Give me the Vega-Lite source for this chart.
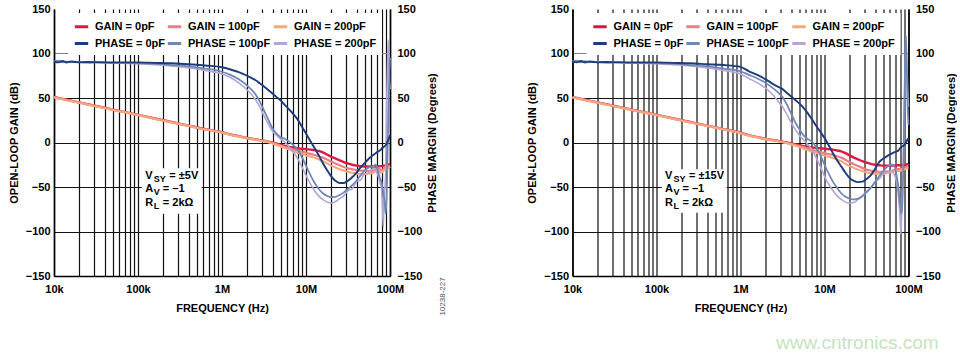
{
  "$schema": "https://vega.github.io/schema/vega-lite/v6.json",
  "padding": {"left": 8, "top": 3, "right": 0, "bottom": 0},
  "background": "white",
  "datasets": {
    "curves": [
      {"p":"A","f":10000,"g0":51,"g1":51,"g2":50.5,"q0":91,"q1":91.5,"q2":92},
      {"p":"A","f":11220,"g0":50,"g1":50,"g2":49.5,"q0":90,"q1":92,"q2":90},
      {"p":"A","f":12589,"g0":49,"g1":49,"g2":48.5,"q0":91.5,"q1":90,"q2":91},
      {"p":"A","f":14125,"g0":48,"g1":48,"g2":47.5,"q0":90,"q1":91,"q2":89.5},
      {"p":"A","f":15849,"g0":47,"g1":47,"g2":46.5,"q0":91,"q1":90,"q2":91},
      {"p":"A","f":17783,"g0":46,"g1":46,"g2":45.5,"q0":90.5,"q1":91,"q2":90},
      {"p":"A","f":19953,"g0":45,"g1":45,"g2":44.5,"q0":90,"q1":90.5,"q2":90.5},
      {"p":"A","f":25119,"g0":43,"g1":43,"g2":42.5,"q0":90.5,"q1":90,"q2":89.5},
      {"p":"A","f":31623,"g0":41,"g1":41,"g2":40.5,"q0":90,"q1":90.5,"q2":90},
      {"p":"A","f":39811,"g0":39,"g1":39,"g2":38.5,"q0":90,"q1":90,"q2":89.5},
      {"p":"A","f":50119,"g0":37,"g1":37,"g2":36.5,"q0":90,"q1":89.5,"q2":89.5},
      {"p":"A","f":63096,"g0":35,"g1":35,"g2":34.5,"q0":90,"q1":89.5,"q2":89},
      {"p":"A","f":100000,"g0":31,"g1":31,"g2":30.5,"q0":90,"q1":89,"q2":88.5},
      {"p":"A","f":158489,"g0":27,"g1":27,"g2":26.5,"q0":89.5,"q1":88.5,"q2":87.5},
      {"p":"A","f":251189,"g0":23,"g1":23,"g2":22.5,"q0":89,"q1":87,"q2":86},
      {"p":"A","f":398107,"g0":19,"g1":19,"g2":18.5,"q0":88,"q1":85.5,"q2":84},
      {"p":"A","f":630957,"g0":15,"g1":15,"g2":14.5,"q0":86.5,"q1":83,"q2":81},
      {"p":"A","f":1000000,"g0":11.5,"g1":11.5,"g2":11,"q0":84.5,"q1":79.5,"q2":77},
      {"p":"A","f":1258925,"g0":9,"g1":9,"g2":8.5,"q0":82,"q1":76,"q2":73},
      {"p":"A","f":1584893,"g0":7,"g1":7,"g2":6.5,"q0":79,"q1":71,"q2":67},
      {"p":"A","f":1995262,"g0":5,"g1":5,"g2":4.5,"q0":75,"q1":64,"q2":59},
      {"p":"A","f":2511886,"g0":3.5,"g1":3.5,"g2":3,"q0":70,"q1":54,"q2":48},
      {"p":"A","f":2818383,"g0":2.5,"g1":2.5,"g2":2,"q0":66.5,"q1":46,"q2":40},
      {"p":"A","f":3162278,"g0":2,"g1":1.8,"g2":1.3,"q0":63,"q1":36,"q2":30},
      {"p":"A","f":3548134,"g0":1,"g1":0.7,"g2":0.2,"q0":59,"q1":26,"q2":21},
      {"p":"A","f":3981072,"g0":0,"g1":-0.5,"g2":-1,"q0":55,"q1":16,"q2":13},
      {"p":"A","f":4466836,"g0":-1.2,"g1":-2,"g2":-2.7,"q0":51,"q1":10,"q2":8},
      {"p":"A","f":5011872,"g0":-2.5,"g1":-3.5,"g2":-4.5,"q0":47,"q1":6,"q2":4},
      {"p":"A","f":5623413,"g0":-3.8,"g1":-5,"g2":-6.3,"q0":42,"q1":4,"q2":0},
      {"p":"A","f":6309573,"g0":-5,"g1":-6.5,"g2":-8,"q0":37,"q1":1,"q2":-5},
      {"p":"A","f":7079458,"g0":-5.8,"g1":-7.8,"g2":-9.8,"q0":32,"q1":-3,"q2":-11},
      {"p":"A","f":7943282,"g0":-6.5,"g1":-9,"g2":-11.5,"q0":26,"q1":-8,"q2":-18},
      {"p":"A","f":8912509,"g0":-7,"g1":-10.3,"g2":-13,"q0":18,"q1":-16,"q2":-27},
      {"p":"A","f":10000000,"g0":-7.5,"g1":-11.5,"g2":-14.5,"q0":10,"q1":-26,"q2":-37},
      {"p":"A","f":11220185,"g0":-8,"g1":-12.8,"g2":-15.8,"q0":2,"q1":-36,"q2":-46},
      {"p":"A","f":12589254,"g0":-8.5,"g1":-14,"g2":-17,"q0":-6,"q1":-45,"q2":-54},
      {"p":"A","f":14125375,"g0":-9.5,"g1":-15.5,"g2":-19,"q0":-14,"q1":-52,"q2":-60},
      {"p":"A","f":15848932,"g0":-11,"g1":-17,"g2":-21,"q0":-23,"q1":-57,"q2":-64},
      {"p":"A","f":17782794,"g0":-13.5,"g1":-19.2,"g2":-23.5,"q0":-31,"q1":-60,"q2":-67},
      {"p":"A","f":19952623,"g0":-16,"g1":-21.5,"g2":-26,"q0":-38,"q1":-61.5,"q2":-68},
      {"p":"A","f":22387211,"g0":-18,"g1":-23.5,"g2":-28,"q0":-43,"q1":-61,"q2":-66.5},
      {"p":"A","f":25118864,"g0":-20,"g1":-25.5,"g2":-30,"q0":-45.5,"q1":-59,"q2":-63},
      {"p":"A","f":28183829,"g0":-22,"g1":-27.5,"g2":-31.5,"q0":-45.5,"q1":-56,"q2":-60},
      {"p":"A","f":31622777,"g0":-23.5,"g1":-29,"g2":-33,"q0":-43,"q1":-52,"q2":-54},
      {"p":"A","f":35481339,"g0":-25,"g1":-30,"g2":-34,"q0":-39,"q1":-48,"q2":-52},
      {"p":"A","f":39810717,"g0":-26,"g1":-31,"g2":-35,"q0":-34,"q1":-43,"q2":-44},
      {"p":"A","f":44668359,"g0":-26.5,"g1":-31.5,"g2":-35.5,"q0":-28,"q1":-37,"q2":-42},
      {"p":"A","f":50118723,"g0":-27,"g1":-32,"g2":-35.5,"q0":-23,"q1":-31,"q2":-35},
      {"p":"A","f":56234133,"g0":-27,"g1":-32,"g2":-35,"q0":-18,"q1":-28,"q2":-34},
      {"p":"A","f":63095734,"g0":-27,"g1":-31.5,"g2":-34,"q0":-14,"q1":-27,"q2":-29},
      {"p":"A","f":67608298,"g0":-27,"g1":-30,"g2":-32,"q0":-12,"q1":-25,"q2":-31},
      {"p":"A","f":72443596,"g0":-27,"g1":-29,"g2":-31,"q0":-10,"q1":-33,"q2":-38},
      {"p":"A","f":75857758,"g0":-26.5,"g1":-30,"g2":-33,"q0":-9,"q1":-40,"q2":-45},
      {"p":"A","f":79432823,"g0":-26.5,"g1":-31,"g2":-34,"q0":-7,"q1":-45,"q2":-52},
      {"p":"A","f":81283052,"g0":-26.5,"g1":-31,"g2":-33,"q0":-6,"q1":-50,"q2":-70},
      {"p":"A","f":83176377,"g0":-26,"g1":-30,"g2":-32,"q0":-5.5,"q1":-55,"q2":-95},
      {"p":"A","f":85113804,"g0":-26,"g1":-29,"g2":-31,"q0":-4.5,"q1":-62,"q2":-60},
      {"p":"A","f":87096359,"g0":-26,"g1":-28,"g2":-30,"q0":-4,"q1":-72,"q2":-50},
      {"p":"A","f":89125094,"g0":-26,"g1":-28,"g2":-30,"q0":-3,"q1":-80,"q2":-30},
      {"p":"A","f":91201084,"g0":-25.5,"g1":-28,"g2":-30,"q0":-1.5,"q1":-60,"q2":40},
      {"p":"A","f":93325430,"g0":-25,"g1":-27.5,"g2":-29,"q0":1,"q1":-20,"q2":90},
      {"p":"A","f":95499259,"g0":-25,"g1":-27,"g2":-28.5,"q0":3,"q1":30,"q2":115},
      {"p":"A","f":97723722,"g0":-24.5,"g1":-26.5,"g2":-28,"q0":5.5,"q1":70,"q2":80},
      {"p":"A","f":100000000,"g0":-24,"g1":-26,"g2":-27,"q0":8,"q1":95,"q2":60},

      {"p":"B","f":10000,"g0":51,"g1":51,"g2":50.5,"q0":91.5,"q1":90.5,"q2":92},
      {"p":"B","f":11220,"g0":50,"g1":50,"g2":49.5,"q0":90,"q1":92,"q2":90.5},
      {"p":"B","f":12589,"g0":49,"g1":49,"g2":48.5,"q0":91.5,"q1":90,"q2":91},
      {"p":"B","f":14125,"g0":48,"g1":48,"g2":47.5,"q0":90,"q1":91.5,"q2":89.5},
      {"p":"B","f":15849,"g0":47,"g1":47,"g2":46.5,"q0":91,"q1":90,"q2":91},
      {"p":"B","f":17783,"g0":46,"g1":46,"g2":45.5,"q0":90.5,"q1":91,"q2":90},
      {"p":"B","f":19953,"g0":45,"g1":45,"g2":44.5,"q0":90,"q1":90.5,"q2":91},
      {"p":"B","f":25119,"g0":43,"g1":43,"g2":42.5,"q0":90.5,"q1":90,"q2":89.5},
      {"p":"B","f":31623,"g0":41,"g1":41,"g2":40.5,"q0":90,"q1":90.5,"q2":90},
      {"p":"B","f":39811,"g0":39,"g1":39,"g2":38.5,"q0":90,"q1":90,"q2":89.5},
      {"p":"B","f":50119,"g0":37,"g1":37,"g2":36.5,"q0":90,"q1":89.5,"q2":89.5},
      {"p":"B","f":63096,"g0":35,"g1":35,"g2":34.5,"q0":90,"q1":89.5,"q2":89},
      {"p":"B","f":100000,"g0":31,"g1":31,"g2":30.5,"q0":90,"q1":89,"q2":88.5},
      {"p":"B","f":158489,"g0":27,"g1":27,"g2":26.5,"q0":89.5,"q1":88.5,"q2":87.5},
      {"p":"B","f":251189,"g0":23,"g1":23,"g2":22.5,"q0":89,"q1":87,"q2":86},
      {"p":"B","f":398107,"g0":19,"g1":19,"g2":18.5,"q0":88,"q1":85.5,"q2":84},
      {"p":"B","f":630957,"g0":15,"g1":15,"g2":14.5,"q0":87,"q1":83,"q2":81},
      {"p":"B","f":1000000,"g0":11,"g1":11,"g2":10.5,"q0":85,"q1":80,"q2":77},
      {"p":"B","f":1258925,"g0":8,"g1":8,"g2":7.5,"q0":80,"q1":76,"q2":72},
      {"p":"B","f":1584893,"g0":6,"g1":6,"g2":5.5,"q0":76,"q1":72,"q2":67},
      {"p":"B","f":1995262,"g0":4,"g1":4,"g2":3.5,"q0":71,"q1":67,"q2":61},
      {"p":"B","f":2511886,"g0":2.5,"g1":2.5,"g2":2,"q0":65,"q1":60,"q2":52},
      {"p":"B","f":2818383,"g0":1.8,"g1":1.7,"g2":1.2,"q0":62.5,"q1":56,"q2":46},
      {"p":"B","f":3162278,"g0":1,"g1":0.8,"g2":0.3,"q0":60,"q1":51,"q2":40},
      {"p":"B","f":3548134,"g0":0,"g1":-0.3,"g2":-0.8,"q0":56,"q1":43,"q2":32},
      {"p":"B","f":3981072,"g0":-1,"g1":-1.5,"g2":-2,"q0":52,"q1":33,"q2":23},
      {"p":"B","f":4466836,"g0":-2,"g1":-2.8,"g2":-3.5,"q0":48,"q1":23,"q2":15},
      {"p":"B","f":5011872,"g0":-3,"g1":-4,"g2":-5,"q0":44,"q1":15,"q2":8},
      {"p":"B","f":5623413,"g0":-4,"g1":-5.2,"g2":-6.8,"q0":39,"q1":8,"q2":3},
      {"p":"B","f":6309573,"g0":-5,"g1":-6.5,"g2":-8.5,"q0":33,"q1":4,"q2":-2},
      {"p":"B","f":7079458,"g0":-5.5,"g1":-8,"g2":-10,"q0":26,"q1":1,"q2":-8},
      {"p":"B","f":7943282,"g0":-6,"g1":-9.5,"g2":-11.5,"q0":19,"q1":-5,"q2":-17},
      {"p":"B","f":8912509,"g0":-6.5,"g1":-10.8,"g2":-13,"q0":12,"q1":-14,"q2":-27},
      {"p":"B","f":10000000,"g0":-7,"g1":-12,"g2":-14.5,"q0":5,"q1":-25,"q2":-38},
      {"p":"B","f":11220185,"g0":-7.5,"g1":-13,"g2":-16,"q0":-3,"q1":-35,"q2":-47},
      {"p":"B","f":12589254,"g0":-8,"g1":-14,"g2":-17.5,"q0":-12,"q1":-44,"q2":-54},
      {"p":"B","f":14125375,"g0":-9,"g1":-15.5,"g2":-19,"q0":-20,"q1":-51,"q2":-60},
      {"p":"B","f":15848932,"g0":-10,"g1":-17,"g2":-21,"q0":-27,"q1":-57,"q2":-64},
      {"p":"B","f":17782794,"g0":-12,"g1":-19.5,"g2":-24,"q0":-34,"q1":-61,"q2":-67},
      {"p":"B","f":19952623,"g0":-14.5,"g1":-22,"g2":-26.5,"q0":-40,"q1":-63,"q2":-68},
      {"p":"B","f":22387211,"g0":-17,"g1":-24.5,"g2":-28.5,"q0":-43,"q1":-64,"q2":-67.5},
      {"p":"B","f":25118864,"g0":-19,"g1":-26.5,"g2":-30.5,"q0":-44.5,"q1":-63,"q2":-64},
      {"p":"B","f":28183829,"g0":-21,"g1":-28.5,"g2":-32,"q0":-44,"q1":-60,"q2":-61},
      {"p":"B","f":31622777,"g0":-22.5,"g1":-30.5,"g2":-33.5,"q0":-41,"q1":-56,"q2":-55},
      {"p":"B","f":35481339,"g0":-24,"g1":-31.5,"g2":-34.5,"q0":-37,"q1":-51,"q2":-51},
      {"p":"B","f":39810717,"g0":-25,"g1":-32.5,"g2":-35,"q0":-30,"q1":-45,"q2":-44},
      {"p":"B","f":44668359,"g0":-25.5,"g1":-33,"g2":-35,"q0":-22,"q1":-38,"q2":-41},
      {"p":"B","f":50118723,"g0":-26,"g1":-33,"g2":-35,"q0":-18,"q1":-32,"q2":-35},
      {"p":"B","f":56234133,"g0":-26,"g1":-32.5,"g2":-34,"q0":-15,"q1":-27,"q2":-34},
      {"p":"B","f":63095734,"g0":-26,"g1":-32,"g2":-33.5,"q0":-12.5,"q1":-25,"q2":-32},
      {"p":"B","f":67608298,"g0":-26,"g1":-31,"g2":-32.5,"q0":-11,"q1":-26,"q2":-36},
      {"p":"B","f":72443596,"g0":-25.5,"g1":-30,"g2":-32,"q0":-10,"q1":-38,"q2":-45},
      {"p":"B","f":75857758,"g0":-25.5,"g1":-30,"g2":-32,"q0":-9,"q1":-50,"q2":-60},
      {"p":"B","f":79432823,"g0":-25.5,"g1":-30,"g2":-32,"q0":-6.5,"q1":-70,"q2":-85},
      {"p":"B","f":81283052,"g0":-25.5,"g1":-29.5,"g2":-31.5,"q0":-5.5,"q1":-75,"q2":-103},
      {"p":"B","f":83176377,"g0":-25.5,"g1":-29.5,"g2":-31,"q0":-4.5,"q1":-80,"q2":-75},
      {"p":"B","f":85113804,"g0":-25.5,"g1":-29,"g2":-30.5,"q0":-4,"q1":-60,"q2":-45},
      {"p":"B","f":87096359,"g0":-25.5,"g1":-29,"g2":-30.5,"q0":-3.5,"q1":-20,"q2":-20},
      {"p":"B","f":89125094,"g0":-25.5,"g1":-29,"g2":-30,"q0":-3,"q1":40,"q2":30},
      {"p":"B","f":91201084,"g0":-25,"g1":-28.5,"g2":-30,"q0":-1.5,"q1":90,"q2":80},
      {"p":"B","f":93325430,"g0":-25,"g1":-28,"g2":-29.5,"q0":0,"q1":120,"q2":110},
      {"p":"B","f":95499259,"g0":-24.5,"g1":-27.5,"g2":-29,"q0":2,"q1":80,"q2":90},
      {"p":"B","f":97723722,"g0":-24.5,"g1":-27,"g2":-29,"q0":3.5,"q1":40,"q2":60},
      {"p":"B","f":100000000,"g0":-24,"g1":-27,"g2":-29,"q0":5,"q1":20,"q2":40}
    ],
    "boxes": [
      {"p":"A","f":110700,"f2":572800,"v":-29,"v2":-80},
      {"p":"B","f":115300,"f2":685500,"v":-30,"v2":-79}
    ],
    "notes": [
      {"p":"A","f":122200,"v":-37.5,"line":1,"m":"V","s":"SY","r":"= ±5V"},
      {"p":"A","f":122200,"v":-52.5,"line":2,"m":"A","s":"V","r":"= –1"},
      {"p":"A","f":122200,"v":-67.5,"line":3,"m":"R","s":"L","r":"= 2kΩ"},
      {"p":"B","f":126200,"v":-37.5,"line":1,"m":"V","s":"SY","r":"= ±15V"},
      {"p":"B","f":126200,"v":-52.5,"line":2,"m":"A","s":"V","r":"= –1"},
      {"p":"B","f":126200,"v":-67.5,"line":3,"m":"R","s":"L","r":"= 2kΩ"}
    ],
    "extras": [
      {"p":"A","f":427600000,"v":-173,"t":"10238-227","kind":"code"},
      {"p":"B","f":2646000,"v":-225,"t":"www.cntronics.com","kind":"wm"}
    ]
  },
  "bounds": "flush",
  "spacing": 182.5,
  "resolve": {"scale": {"color": "independent"}, "legend": {"color": "independent"}},
  "hconcat": [
    {
      "width": 336, "height": 267,
      "encoding": {
        "x": {"field": "f", "type": "quantitative",
          "scale": {"type": "log", "domain": [10000, 100000000], "nice": false},
          "axis": {"title": "FREQUENCY (Hz)", "values": [10000,20000,30000,40000,50000,60000,70000,80000,90000,100000,200000,300000,400000,500000,600000,700000,800000,900000,1000000,2000000,3000000,4000000,5000000,6000000,7000000,8000000,9000000,10000000,20000000,30000000,40000000,50000000,60000000,70000000,80000000,90000000,100000000],
            "labelExpr": "datum.value == 10000 ? '10k' : datum.value == 100000 ? '100k' : datum.value == 1000000 ? '1M' : datum.value == 10000000 ? '10M' : datum.value == 100000000 ? '100M' : ''",
            "grid": true, "labelPadding": 7, "titlePadding": 8}}
      },
      "layer": [
        {"data": {"name": "boxes"}, "transform": [{"filter": "datum.p == 'A'"}],
         "mark": {"type": "rect", "fill": "white"},
         "encoding": {"x2": {"field": "f2"}, "y": {"field": "v", "type": "quantitative", "scale": {"domain": [-150, 150], "nice": false, "zero": false}, "axis": null}, "y2": {"field": "v2"}}},
        {"data": {"name": "curves"}, "transform": [{"filter": "datum.p == 'A'"}, {"fold": ["g0", "g1", "g2"], "as": ["k", "val"]}],
         "mark": {"type": "line", "interpolate": "monotone"},
         "encoding": {
           "y": {"field": "val", "type": "quantitative", "scale": {"domain": [-150, 150], "nice": false, "zero": false},
             "axis": {"title": "OPEN-LOOP GAIN (dB)", "orient": "left", "values": [-150,-100,-50,0,50,100,150], "grid": true, "labelPadding": 4, "titlePadding": 6,
               "gridColor": {"condition": {"test": "datum.value === 100", "value": "#808080"}, "value": "#111111"},
               "gridOpacity": {"condition": {"test": "datum.value === 150", "value": 0}, "value": 1}}},
           "color": {"field": "k", "type": "nominal",
             "scale": {"domain": ["g0","g1","g2","q0","q1","q2"], "range": ["#dc1a40","#ec7d8c","#f6a878","#1d3c7c","#6f88b6","#b3a5d5"]},
             "legend": {"title": null, "orient": "none", "legendX": 14, "legendY": 4, "columns": 3, "direction": "horizontal",
               "labelExpr": "datum.label == 'g0' ? 'GAIN = 0pF' : datum.label == 'g1' ? 'GAIN = 100pF' : datum.label == 'g2' ? 'GAIN = 200pF' : datum.label == 'q0' ? 'PHASE = 0pF' : datum.label == 'q1' ? 'PHASE = 100pF' : 'PHASE = 200pF'"}},
           "strokeWidth": {"field": "k", "type": "nominal", "scale": {"domain": ["g0","g1","g2","q0","q1","q2"], "range": [2.4,1.6,1.6,2.6,1.8,1.6]}, "legend": null}
         }},
        {"data": {"name": "curves"}, "transform": [{"filter": "datum.p == 'A'"}, {"fold": ["q2", "q1", "q0"], "as": ["k", "val"]}],
         "mark": {"type": "line", "interpolate": "monotone"},
         "encoding": {
           "y": {"field": "val", "type": "quantitative", "scale": {"domain": [-150, 150], "nice": false, "zero": false},
             "axis": {"title": "PHASE MARGIN (Degrees)", "orient": "right", "values": [-150,-100,-50,0,50,100,150], "grid": false, "labelPadding": 7, "titlePadding": 5, "titleAngle": 270, "titleBaseline": "top"}},
           "color": {"field": "k", "type": "nominal", "scale": {"domain": ["g0","g1","g2","q0","q1","q2"], "range": ["#dc1a40","#ec7d8c","#f6a878","#1d3c7c","#6f88b6","#b3a5d5"]}},
           "strokeWidth": {"field": "k", "type": "nominal", "scale": {"domain": ["g0","g1","g2","q0","q1","q2"], "range": [2.4,1.6,1.6,2.6,1.8,1.6]}, "legend": null}
         }},
        {"data": {"name": "notes"}, "transform": [{"filter": "datum.p == 'A'"}],
         "mark": {"type": "text", "align": "left", "baseline": "middle", "font": "Liberation Sans", "fontWeight": "bold", "fontSize": 11, "color": "#000"},
         "encoding": {"y": {"field": "v", "type": "quantitative", "scale": {"domain": [-150, 150], "nice": false, "zero": false}, "axis": null}, "text": {"field": "m"}}},
        {"data": {"name": "notes"}, "transform": [{"filter": "datum.p == 'A'"}],
         "mark": {"type": "text", "align": "left", "baseline": "middle", "font": "Liberation Sans", "fontWeight": "bold", "fontSize": 9, "color": "#000", "dx": 8.5, "dy": 3},
         "encoding": {"y": {"field": "v", "type": "quantitative", "scale": {"domain": [-150, 150], "nice": false, "zero": false}, "axis": null}, "text": {"field": "s"}}},
        {"data": {"name": "notes"}, "transform": [{"filter": "datum.p == 'A' && datum.line == 1"}],
         "mark": {"type": "text", "align": "left", "baseline": "middle", "font": "Liberation Sans", "fontWeight": "bold", "fontSize": 11, "color": "#000", "dx": 24},
         "encoding": {"y": {"field": "v", "type": "quantitative", "scale": {"domain": [-150, 150], "nice": false, "zero": false}, "axis": null}, "text": {"field": "r"}}},
        {"data": {"name": "notes"}, "transform": [{"filter": "datum.p == 'A' && datum.line != 1"}],
         "mark": {"type": "text", "align": "left", "baseline": "middle", "font": "Liberation Sans", "fontWeight": "bold", "fontSize": 11, "color": "#000", "dx": 17.5},
         "encoding": {"y": {"field": "v", "type": "quantitative", "scale": {"domain": [-150, 150], "nice": false, "zero": false}, "axis": null}, "text": {"field": "r"}}},
        {"data": {"name": "extras"}, "transform": [{"filter": "datum.p == 'A'"}],
         "mark": {"type": "text", "align": "center", "baseline": "middle", "angle": 270, "font": "Liberation Sans", "fontSize": 8, "color": "#4a4f5e"},
         "encoding": {"y": {"field": "v", "type": "quantitative", "scale": {"domain": [-150, 150], "nice": false, "zero": false}, "axis": null}, "text": {"field": "t"}}}
      ],
      "resolve": {"scale": {"y": "independent"}}
    },
    {
      "width": 336, "height": 267,
      "encoding": {
        "x": {"field": "f", "type": "quantitative",
          "scale": {"type": "log", "domain": [10000, 100000000], "nice": false},
          "axis": {"title": "FREQUENCY (Hz)", "values": [10000,20000,30000,40000,50000,60000,70000,80000,90000,100000,200000,300000,400000,500000,600000,700000,800000,900000,1000000,2000000,3000000,4000000,5000000,6000000,7000000,8000000,9000000,10000000,20000000,30000000,40000000,50000000,60000000,70000000,80000000,90000000,100000000],
            "labelExpr": "datum.value == 10000 ? '10k' : datum.value == 100000 ? '100k' : datum.value == 1000000 ? '1M' : datum.value == 10000000 ? '10M' : datum.value == 100000000 ? '100M' : ''",
            "grid": true, "labelPadding": 7, "titlePadding": 8}}
      },
      "layer": [
        {"data": {"name": "boxes"}, "transform": [{"filter": "datum.p == 'B'"}],
         "mark": {"type": "rect", "fill": "white"},
         "encoding": {"x2": {"field": "f2"}, "y": {"field": "v", "type": "quantitative", "scale": {"domain": [-150, 150], "nice": false, "zero": false}, "axis": null}, "y2": {"field": "v2"}}},
        {"data": {"name": "curves"}, "transform": [{"filter": "datum.p == 'B'"}, {"fold": ["g0", "g1", "g2"], "as": ["k", "val"]}],
         "mark": {"type": "line", "interpolate": "monotone"},
         "encoding": {
           "y": {"field": "val", "type": "quantitative", "scale": {"domain": [-150, 150], "nice": false, "zero": false},
             "axis": {"title": "OPEN-LOOP GAIN (dB)", "orient": "left", "values": [-150,-100,-50,0,50,100,150], "grid": true, "labelPadding": 4, "titlePadding": 6,
               "gridColor": {"condition": {"test": "datum.value === 100", "value": "#808080"}, "value": "#111111"},
               "gridOpacity": {"condition": {"test": "datum.value === 150", "value": 0}, "value": 1}}},
           "color": {"field": "k", "type": "nominal",
             "scale": {"domain": ["g0","g1","g2","q0","q1","q2"], "range": ["#dc1a40","#ec7d8c","#f6a878","#1d3c7c","#6f88b6","#b3a5d5"]},
             "legend": {"title": null, "orient": "none", "legendX": 14, "legendY": 4, "columns": 3, "direction": "horizontal",
               "labelExpr": "datum.label == 'g0' ? 'GAIN = 0pF' : datum.label == 'g1' ? 'GAIN = 100pF' : datum.label == 'g2' ? 'GAIN = 200pF' : datum.label == 'q0' ? 'PHASE = 0pF' : datum.label == 'q1' ? 'PHASE = 100pF' : 'PHASE = 200pF'"}},
           "strokeWidth": {"field": "k", "type": "nominal", "scale": {"domain": ["g0","g1","g2","q0","q1","q2"], "range": [2.4,1.6,1.6,2.6,1.8,1.6]}, "legend": null}
         }},
        {"data": {"name": "curves"}, "transform": [{"filter": "datum.p == 'B'"}, {"fold": ["q2", "q1", "q0"], "as": ["k", "val"]}],
         "mark": {"type": "line", "interpolate": "monotone"},
         "encoding": {
           "y": {"field": "val", "type": "quantitative", "scale": {"domain": [-150, 150], "nice": false, "zero": false},
             "axis": {"title": "PHASE MARGIN (Degrees)", "orient": "right", "values": [-150,-100,-50,0,50,100,150], "grid": false, "labelPadding": 7, "titlePadding": 5, "titleAngle": 270, "titleBaseline": "top"}},
           "color": {"field": "k", "type": "nominal", "scale": {"domain": ["g0","g1","g2","q0","q1","q2"], "range": ["#dc1a40","#ec7d8c","#f6a878","#1d3c7c","#6f88b6","#b3a5d5"]}},
           "strokeWidth": {"field": "k", "type": "nominal", "scale": {"domain": ["g0","g1","g2","q0","q1","q2"], "range": [2.4,1.6,1.6,2.6,1.8,1.6]}, "legend": null}
         }},
        {"data": {"name": "notes"}, "transform": [{"filter": "datum.p == 'B'"}],
         "mark": {"type": "text", "align": "left", "baseline": "middle", "font": "Liberation Sans", "fontWeight": "bold", "fontSize": 11, "color": "#000"},
         "encoding": {"y": {"field": "v", "type": "quantitative", "scale": {"domain": [-150, 150], "nice": false, "zero": false}, "axis": null}, "text": {"field": "m"}}},
        {"data": {"name": "notes"}, "transform": [{"filter": "datum.p == 'B'"}],
         "mark": {"type": "text", "align": "left", "baseline": "middle", "font": "Liberation Sans", "fontWeight": "bold", "fontSize": 9, "color": "#000", "dx": 8.5, "dy": 3},
         "encoding": {"y": {"field": "v", "type": "quantitative", "scale": {"domain": [-150, 150], "nice": false, "zero": false}, "axis": null}, "text": {"field": "s"}}},
        {"data": {"name": "notes"}, "transform": [{"filter": "datum.p == 'B' && datum.line == 1"}],
         "mark": {"type": "text", "align": "left", "baseline": "middle", "font": "Liberation Sans", "fontWeight": "bold", "fontSize": 11, "color": "#000", "dx": 24},
         "encoding": {"y": {"field": "v", "type": "quantitative", "scale": {"domain": [-150, 150], "nice": false, "zero": false}, "axis": null}, "text": {"field": "r"}}},
        {"data": {"name": "notes"}, "transform": [{"filter": "datum.p == 'B' && datum.line != 1"}],
         "mark": {"type": "text", "align": "left", "baseline": "middle", "font": "Liberation Sans", "fontWeight": "bold", "fontSize": 11, "color": "#000", "dx": 17.5},
         "encoding": {"y": {"field": "v", "type": "quantitative", "scale": {"domain": [-150, 150], "nice": false, "zero": false}, "axis": null}, "text": {"field": "r"}}},
        {"data": {"name": "extras"}, "transform": [{"filter": "datum.p == 'B'"}],
         "mark": {"type": "text", "align": "left", "baseline": "middle", "font": "Liberation Sans", "fontSize": 19, "color": "#c6e3c0"},
         "encoding": {"y": {"field": "v", "type": "quantitative", "scale": {"domain": [-150, 150], "nice": false, "zero": false}, "axis": null}, "text": {"field": "t"}}}
      ],
      "resolve": {"scale": {"y": "independent"}}
    }
  ],
  "config": {
    "view": {"stroke": null},
    "font": "Liberation Sans",
    "axis": {
      "labelFont": "Liberation Sans", "labelFontWeight": "bold", "labelFontSize": 11, "labelColor": "#000",
      "titleFont": "Liberation Sans", "titleFontWeight": "bold", "titleFontSize": 11, "titleColor": "#000",
      "ticks": false, "domainColor": "#000", "domainWidth": 1.6, "labelFlush": false, "labelOverlap": false,
      "gridColor": "#111111", "gridWidth": 1.2, "gridOpacity": 1
    },
    "legend": {
      "fillColor": "white", "padding": 5, "labelFont": "Liberation Sans", "labelFontWeight": "bold", "labelFontSize": 11,
      "labelColor": "#000", "symbolType": "stroke", "symbolSize": 180, "symbolStrokeWidth": 3, "labelOffset": 5,
      "rowPadding": 2, "columnPadding": -4, "labelLimit": 0
    }
  }
}
